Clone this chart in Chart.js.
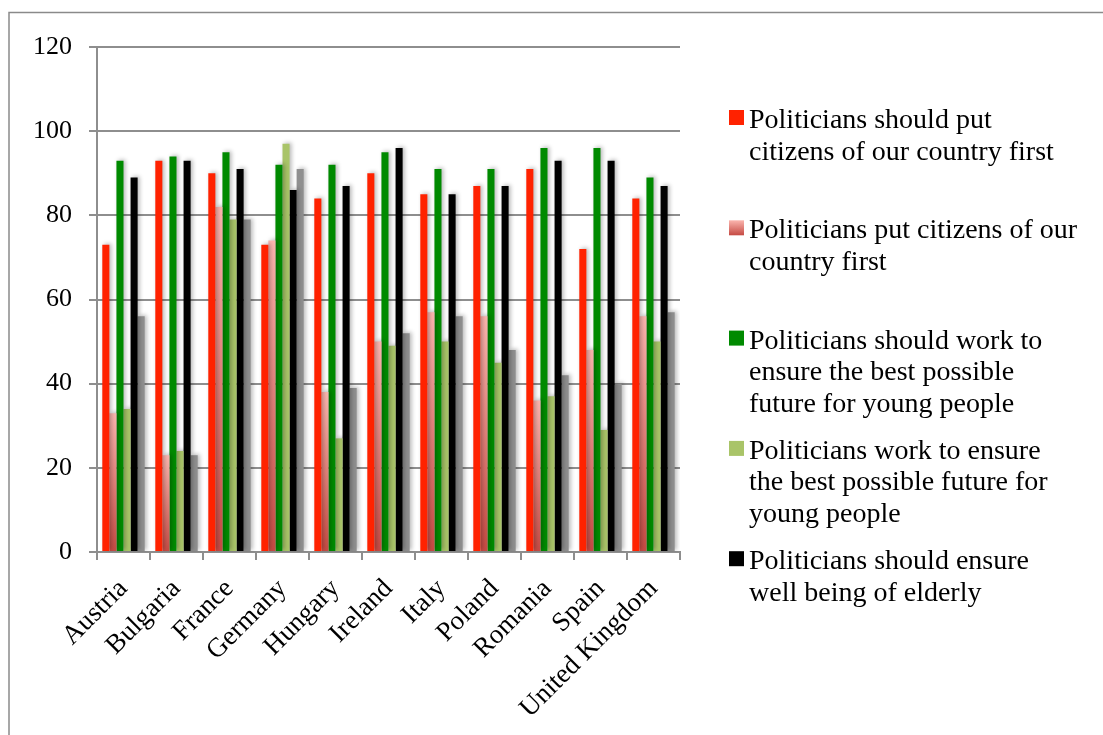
<!DOCTYPE html>
<html>
<head>
<meta charset="utf-8">
<script src="https://cdn.jsdelivr.net/npm/chart.js@4.4.1/dist/chart.umd.min.js"></script>
<style>
  html, body { margin: 0; padding: 0; background: #ffffff; }
  #wrap { position: relative; width: 1103px; height: 735px; }
</style>
</head>
<body>
<div id="wrap"><canvas id="c" width="1103" height="735"></canvas></div>
<script>
// Survey results by country (percent agreeing)
const countries = ['Austria', 'Bulgaria', 'France', 'Germany', 'Hungary', 'Ireland', 'Italy', 'Poland', 'Romania', 'Spain', 'United Kingdom'];
const shouldPutCitizensFirst = [73, 93, 90, 73, 84, 90, 85, 87, 91, 72, 84];
const doPutCitizensFirst     = [33, 23, 82, 74, 38, 50, 57, 56, 36, 48, 56];
const shouldEnsureYouthFuture = [93, 94, 95, 92, 92, 95, 91, 91, 96, 96, 89];
const doEnsureYouthFuture     = [34, 24, 79, 97, 27, 49, 50, 45, 37, 29, 50];
const shouldEnsureElderly = [89, 93, 91, 86, 87, 96, 85, 87, 93, 93, 87];
const doEnsureElderly     = [56, 23, 79, 91, 39, 52, 56, 48, 42, 40, 57];
const yTicks = [0, 20, 40, 60, 80, 100, 120];

const seriesNames = [
  'Politicians should put citizens of our country first',
  'Politicians put citizens of our country first',
  'Politicians should work to ensure the best possible future for young people',
  'Politicians work to ensure the best possible future for young people',
  'Politicians should ensure well being of elderly',
  'Politicians ensure well being of elderly'
];
// Wrapped legend text (the last series does not fit in the legend box)
const legendLines = [
  ['Politicians should put', 'citizens of our country first'],
  ['Politicians put citizens of our', 'country first'],
  ['Politicians should work to', 'ensure the best possible', 'future for young people'],
  ['Politicians work to ensure', 'the best possible future for', 'young people'],
  ['Politicians should ensure', 'well being of elderly']
];

const SERIF = '"Liberation Serif", "Times New Roman", serif';
const GRID = '#8e8e8e';

function pinkGradient(ctx, top, bottom) {
  const g = ctx.createLinearGradient(0, top, 0, bottom);
  g.addColorStop(0, '#fbb5ae');
  g.addColorStop(1, '#c54a43');
  return g;
}

const pinkFill = (c) => {
  const chart = c.chart;
  if (!chart.chartArea || c.type !== 'data') return '#e6857d';
  const ys = chart.scales.y;
  return pinkGradient(chart.ctx, ys.getPixelForValue(c.raw), ys.getPixelForValue(0));
};

// Soft drop shadow behind the bars
const barShadow = {
  id: 'barShadow',
  beforeDatasetsDraw(chart) {
    const ctx = chart.ctx;
    ctx.save();
    ctx.shadowColor = 'rgba(0,0,0,0.28)';
    ctx.shadowBlur = 4;
    ctx.shadowOffsetX = 2;
    ctx.shadowOffsetY = -1;
  },
  afterDatasetsDraw(chart) { chart.ctx.restore(); }
};

// Outer frame of the chart object
const frame = {
  id: 'frame',
  beforeDraw(chart) {
    const ctx = chart.ctx;
    ctx.save();
    ctx.strokeStyle = '#8a8a8a';
    ctx.lineWidth = 1.5;
    ctx.beginPath();
    ctx.moveTo(9, chart.height);
    ctx.lineTo(9, 12.5);
    ctx.lineTo(chart.width, 12.5);
    ctx.stroke();
    ctx.restore();
  }
};

// Legend on the right with fixed-height slots per entry
const sideLegend = {
  id: 'sideLegend',
  afterDraw(chart) {
    const ctx = chart.ctx;
    const area = chart.chartArea;
    const x0 = area.right + 49;
    const textX = x0 + 20;
    const firstTop = area.top + 63;
    const slot = 110.3;
    const lineH = 31.5;
    ctx.save();
    ctx.font = '28px ' + SERIF;
    ctx.fillStyle = '#000';
    ctx.textAlign = 'left';
    ctx.textBaseline = 'alphabetic';
    legendLines.forEach((lines, i) => {
      const top = firstTop + i * slot;
      const ds = chart.data.datasets[i];
      ctx.fillStyle = i === 1 ? pinkGradient(ctx, top, top + 15) : ds.backgroundColor;
      ctx.fillRect(x0, top, 15, 15);
      ctx.fillStyle = '#000';
      lines.forEach((t, j) => ctx.fillText(t, textX, top + 18 + j * lineH));
    });
    ctx.restore();
  }
};

new Chart(document.getElementById('c'), {
  type: 'bar',
  data: {
    labels: countries,
    datasets: [
      { label: seriesNames[0], data: shouldPutCitizensFirst, backgroundColor: '#ff2200' },
      { label: seriesNames[1], data: doPutCitizensFirst, backgroundColor: pinkFill },
      { label: seriesNames[2], data: shouldEnsureYouthFuture, backgroundColor: '#008a00' },
      { label: seriesNames[3], data: doEnsureYouthFuture, backgroundColor: '#a9c468' },
      { label: seriesNames[4], data: shouldEnsureElderly, backgroundColor: '#000000' },
      { label: seriesNames[5], data: doEnsureElderly, backgroundColor: '#8f8f8f' }
    ]
  },
  options: {
    responsive: false,
    animation: false,
    devicePixelRatio: 1,
    layout: { padding: { top: 47, right: 423, left: 0, bottom: 0 } },
    datasets: { bar: { categoryPercentage: 0.8, barPercentage: 1.0, borderWidth: 0 } },
    plugins: { legend: { display: false }, tooltip: { enabled: false } },
    scales: {
      x: {
        grid: { offset: true, drawOnChartArea: false, color: GRID, lineWidth: 2, tickLength: 8 },
        border: { color: GRID, width: 2 },
        ticks: { minRotation: 45, maxRotation: 45, color: '#000', padding: 13, font: { family: SERIF, size: 27 } },
        afterFit(s) { s.height = 183; }
      },
      y: {
        min: 0,
        max: 120,
        afterBuildTicks(s) { s.ticks = yTicks.map(v => ({ value: v })); },
        grid: { color: GRID, lineWidth: 2, tickLength: 8 },
        border: { color: GRID, width: 2 },
        ticks: { color: '#000', padding: 17, font: { family: SERIF, size: 26 } },
        afterFit(s) { s.width = 97; }
      }
    }
  },
  plugins: [frame, barShadow, sideLegend]
});
</script>
</body>
</html>
